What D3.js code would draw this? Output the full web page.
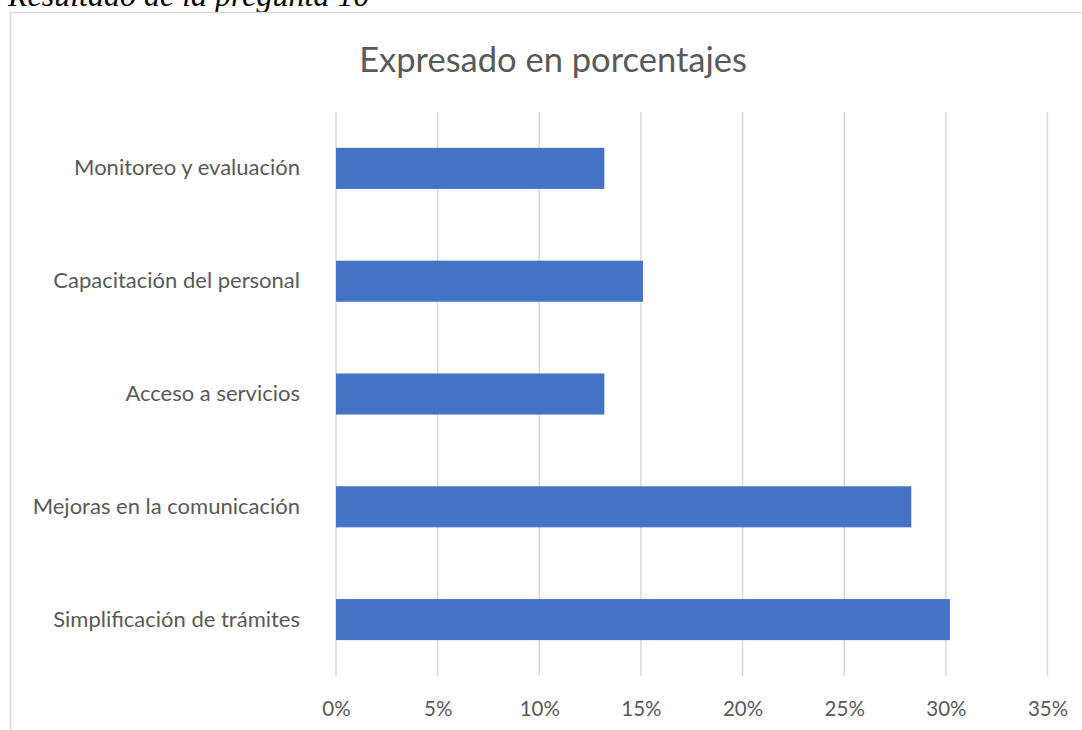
<!DOCTYPE html>
<html><head><meta charset="utf-8">
<script src="https://cdn.jsdelivr.net/npm/d3@7"></script>
<style>body{margin:0;background:#fff;} svg{display:block;}</style>
</head><body>
<svg id="c" width="1082" height="730"></svg>
<script>
const categories = ["Monitoreo y evaluación","Capacitación del personal","Acceso a servicios","Mejoras en la comunicación","Simplificación de trámites"];
const values = [0.132, 0.151, 0.132, 0.283, 0.302];
const ticks = [0,0.05,0.10,0.15,0.20,0.25,0.30,0.35];
const title = "Expresado en porcentajes";
const caption = "Resultado de la pregunta 10";

const svg = d3.select("#c");
const font = "Lato, 'Open Sans', sans-serif";
svg.append("text").attr("x",8).attr("y",6).attr("font-family","'Liberation Serif', serif")
  .attr("font-style","italic").attr("font-size",32).attr("fill","#000").text(caption);
svg.append("rect").attr("x",10.5).attr("y",12.5).attr("width",1100).attr("height",800)
  .attr("fill","none").attr("stroke","#d9d9d9").attr("stroke-width",1.5);

const x = d3.scaleLinear().domain([0,0.35]).range([336,1047.5]);
const y = d3.scaleBand().domain(categories).range([112,676]).paddingInner(0.636).paddingOuter(0.318);

svg.append("text").attr("x",553).attr("y",72).attr("text-anchor","middle")
  .attr("font-family",font).attr("font-size",34.5).attr("fill","#595959").text(title);

const g = svg.append("g");
g.selectAll("line.grid").data(ticks).join("line").attr("class","grid")
  .attr("x1",d=>x(d)).attr("x2",d=>x(d)).attr("y1",112).attr("y2",676)
  .attr("stroke","#d9d9d9").attr("stroke-width",1.5);

g.selectAll("rect.bar").data(values).join("rect").attr("class","bar")
  .attr("x",x(0)).attr("y",(d,i)=>y(categories[i])).attr("width",d=>x(d)-x(0))
  .attr("height",y.bandwidth()).attr("fill","#4472c4");

const xa = svg.append("g").attr("transform","translate(0,676)")
  .call(d3.axisBottom(x).tickValues(ticks).tickFormat(d3.format(".0%")).tickSize(0).tickPadding(25));
xa.select(".domain").remove();
xa.selectAll("text").attr("font-family",font).attr("font-size",20.5).attr("fill","#595959");

const ya = svg.append("g").attr("transform","translate(336,0)")
  .call(d3.axisLeft(y).tickSize(0).tickPadding(36));
ya.select(".domain").remove();
ya.selectAll("text").attr("font-family",font).attr("font-size",22).attr("fill","#595959");
</script>
</body></html>
